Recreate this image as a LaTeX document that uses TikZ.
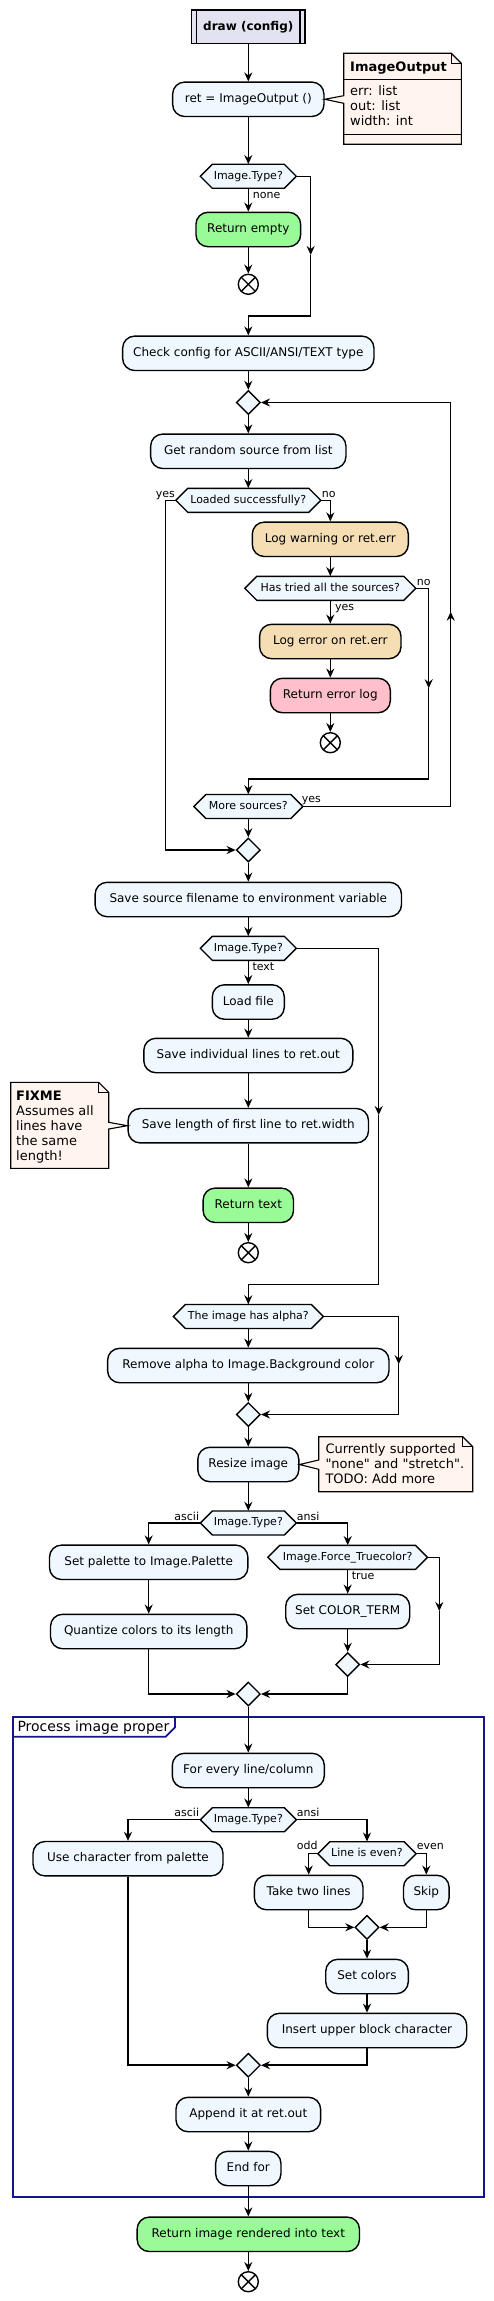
\documentclass[tikz,border=0pt]{standalone}
\usepackage{fontspec}
\setmainfont{DejaVu Sans}[Ligatures=TeXOff]
\usetikzlibrary{arrows.meta,shapes.geometric}
\definecolor{actfill}{HTML}{F0F8FF}
\definecolor{titlefill}{HTML}{E2E2F0}
\definecolor{okfill}{HTML}{98FB98}
\definecolor{warnfill}{HTML}{F5DEB3}
\definecolor{errfill}{HTML}{FFC0CB}
\definecolor{notefill}{HTML}{FFF5EE}
\definecolor{framecol}{HTML}{14148C}
\newcommand\fsA{\fontsize{12}{14}\selectfont}
\newcommand\fsB{\fontsize{11}{13}\selectfont}
\newcommand\fsN{\fontsize{13}{15}\selectfont}
\newcommand\fsP{\fontsize{14}{16}\selectfont}
\newcommand\hexnode[5]{%
  \path[hexshape] (#2-#4,#3) -- (#2-#4+12,#3-12) -- (#2+#4-12,#3-12) -- (#2+#4,#3) -- (#2+#4-12,#3+12) -- (#2-#4+12,#3+12) -- cycle;
  \node[hextext, minimum width={2*#4}] (#1) at (#2,#3) {#5};}
\tikzset{
  arr/.style={draw, line width=1.5pt, -{Stealth[length=9pt,width=8pt,inset=3pt]}},
  ln/.style={draw, line width=1.4pt},
  act/.style={draw, rounded corners=12pt, fill=actfill, line width=1.4pt, minimum height=34.4, inner xsep=3pt, inner ysep=0pt, font=\fsA, text height=9pt, text depth=2.8pt},
  hexshape/.style={draw, fill=actfill, line width=1.4pt, line join=miter},
  hextext/.style={inner sep=0, minimum height=24, font=\fsB, text height=8.2pt, text depth=2.5pt},
  merge/.style={diamond, draw, fill=actfill, line width=1.4pt, minimum width=24, minimum height=24, inner sep=0},
  endc/.style={circle, draw, fill=white, line width=1.4pt, minimum size=20, inner sep=0,
    path picture={\draw[line width=1.4pt] (path picture bounding box.north west) -- (path picture bounding box.south east) (path picture bounding box.north east) -- (path picture bounding box.south west);}},
  lbl/.style={font=\fsB, inner sep=0},
  notebody/.style={draw, fill=notefill, line width=1.1pt, line join=miter},
  noteline/.style={draw, line width=1.1pt},
  notetext/.style={font=\fsN, inner sep=0},
  frameline/.style={draw=framecol, line width=1.8pt}
}
\begin{document}
\begin{tikzpicture}[x=1pt,y=-1pt]
\fill[white] (0,0) rectangle (494,2301);
\useasboundingbox (0,0) rectangle (494,2301);

% partition frame
\draw[frameline] (13.3,1717.3) rectangle (484.3,2197.3);
\draw[frameline] (13.3,1736.7) -- (165.7,1736.7) -- (175,1727.4) -- (175,1717.3);
\node[font=\fsP, anchor=base west, inner sep=0] (ptitle) at (17.3,1731) {Process image proper};

% title
\node[draw, fill=titlefill, line width=1.4pt, minimum width=113.3, minimum height=33.7, font=\fsA\bfseries] (title) at (248.3,26.85) {draw (config)};
\draw[ln] ([xshift=5.7pt]title.north west) -- ([xshift=5.7pt]title.south west);
\draw[ln] ([xshift=-5.7pt]title.north east) -- ([xshift=-5.7pt]title.south east);

% activities
\node[act, minimum width=151.3] (ret) at (248.3,99.3) {ret = ImageOutput ()};
\node[act, fill=okfill, minimum width=104.7] (retempty) at (248.3,229.5) {Return empty};
\node[act, minimum width=251.3] (check) at (248.3,353.3) {Check config for ASCII/ANSI/TEXT type};
\node[act, minimum width=195.3] (getsrc) at (248.3,451.3) {Get random source from list};
\node[act, fill=warnfill, minimum width=156] (logwarn) at (330.3,539.3) {Log warning or ret.err};
\node[act, fill=warnfill, minimum width=141.4] (logerr) at (330.3,641.5) {Log error on ret.err};
\node[act, fill=errfill, minimum width=120] (reterr) at (330.3,695.5) {Return error log};
\node[act, minimum width=306.4] (savesrc) at (248.3,899.5) {Save source filename to environment variable};
\node[act, minimum width=72] (load) at (248.3,1002) {Load file};
\node[act, minimum width=209] (saveind) at (248.3,1055.5) {Save individual lines to ret.out};
\node[act, minimum width=240.4] (savelen) at (248.3,1125.7) {Save length of first line to ret.width};
\node[act, fill=okfill, minimum width=90.4] (rettext) at (248.3,1205.3) {Return text};
\node[act, minimum width=281.4] (remalpha) at (248.3,1365.5) {Remove alpha to Image.Background color};
\node[act, minimum width=101] (resize) at (248.3,1464.5) {Resize image};
\node[act, minimum width=198.4] (setpal) at (148.7,1562.3) {Set palette to Image.Palette};
\node[act, minimum width=196.4] (quant) at (148.7,1631.5) {Quantize colors to its length};
\node[act, minimum width=124] (setterm) at (347.7,1611.5) {Set COLOR\_TERM};
\node[act, minimum width=152] (forevery) at (248.3,1770.5) {For every line/column};
\node[act, minimum width=190] (usechar) at (128,1858.7) {Use character from palette};
\node[act, minimum width=108.6] (taketwo) at (308.7,1892.5) {Take two lines};
\node[act, minimum width=45.6] (skip) at (426.3,1892.5) {Skip};
\node[act, minimum width=82.6] (setcolors) at (367,1976.5) {Set colors};
\node[act, minimum width=199.4] (insert) at (367,2030.5) {Insert upper block character};
\node[act, minimum width=144.7] (append) at (248.3,2114.5) {Append it at ret.out};
\node[act, minimum width=65.3] (endfor) at (248.3,2168.5) {End for};
\node[act, fill=okfill, minimum width=222.3] (retimg) at (248.3,2234.3) {Return image rendered into text};

% decisions
\hexnode{d1}{248.3}{176.3}{48}{Image.Type?}
\hexnode{loaded}{248.3}{500.3}{72.5}{Loaded successfully?}
\hexnode{tried}{330.3}{588.3}{85.5}{Has tried all the sources?}
\hexnode{more}{248.3}{806.5}{54.5}{More sources?}
\hexnode{d2}{248.3}{948.3}{48}{Image.Type?}
\hexnode{alpha}{248.3}{1316.5}{75}{The image has alpha?}
\hexnode{d3}{248.3}{1523}{48}{Image.Type?}
\hexnode{force}{347.7}{1557.3}{79.8}{Image.Force\_Truecolor?}
\hexnode{d4}{248.3}{1819.7}{48}{Image.Type?}
\hexnode{even}{367}{1853.7}{49.2}{Line is even?}

% merges
\node[merge] (m1) at (248.3,402.5) {};
\node[merge] (m2) at (248.3,850) {};
\node[merge] (m3) at (248.3,1414.5) {};
\node[merge] (m4) at (347.7,1664.5) {};
\node[merge] (m5) at (248.3,1694) {};
\node[merge] (m6) at (367,1927.3) {};
\node[merge] (m7) at (248.3,2065.2) {};

% ends
\node[endc] (e1) at (248.3,284.3) {};
\node[endc] (e2) at (330.3,742.7) {};
\node[endc] (e3) at (248.3,1252.7) {};
\node[endc] (e4) at (248.3,2281.7) {};

% helper coordinates
\coordinate (b1) at (310.7,255);
\coordinate (j1) at (310.7,316);
\coordinate (j4) at (165.3,500.3);
\coordinate (b3) at (428.7,688.3);
\coordinate (j3) at (428.7,779);
\coordinate (u1) at (450.7,611.7);
\coordinate (b2) at (378.7,1115);
\coordinate (j2) at (378.7,1284.3);
\coordinate (b4) at (398.7,1364.3);
\coordinate (b5) at (439.3,1611);

% connectors
\draw[arr] (title) -- (ret);
\draw[arr] (ret) -- (d1);
\draw[arr] (d1) -- (retempty);
\draw[arr] (retempty) -- (e1);
\draw[arr] (d1.east) -| (b1);
\draw[arr] (b1) -- (j1) -| (check.north);
\draw[arr] (check) -- (m1);
\draw[arr] (m1) -- (getsrc);
\draw[arr] (getsrc) -- (loaded);
\draw[arr] (loaded.west) -- (j4) |- (m2.west);
\draw[arr] (loaded.east) -| (logwarn.north);
\draw[arr] (logwarn) -- (tried);
\draw[arr] (tried) -- (logerr);
\draw[arr] (logerr) -- (reterr);
\draw[arr] (reterr) -- (e2);
\draw[arr] (tried.east) -| (b3);
\draw[arr] (b3) -- (j3) -| (more.north);
\draw[arr] (more.east) -| (u1);
\draw[arr] (u1) |- (m1.east);
\draw[arr] (more) -- (m2);
\draw[arr] (m2) -- (savesrc);
\draw[arr] (savesrc) -- (d2);
\draw[arr] (d2) -- (load);
\draw[arr] (load) -- (saveind);
\draw[arr] (saveind) -- (savelen);
\draw[arr] (savelen) -- (rettext);
\draw[arr] (rettext) -- (e3);
\draw[arr] (d2.east) -| (b2);
\draw[arr] (b2) -- (j2) -| (alpha.north);
\draw[arr] (alpha) -- (remalpha);
\draw[arr] (remalpha) -- (m3);
\draw[arr] (alpha.east) -| (b4);
\draw[arr] (b4) |- (m3.east);
\draw[arr] (m3) -- (resize);
\draw[arr] (resize) -- (d3);
\draw[arr] (d3.west) -| (setpal.north);
\draw[arr] (d3.east) -| (force.north);
\draw[arr] (setpal) -- (quant);
\draw[arr] (force) -- (setterm);
\draw[arr] (setterm) -- (m4);
\draw[arr] (force.east) -| (b5);
\draw[arr] (b5) |- (m4.east);
\draw[arr] (quant.south) |- (m5.west);
\draw[arr] (m4.south) |- (m5.east);
\draw[arr] (m5) -- (forevery);
\draw[arr] (forevery) -- (d4);
\draw[arr] (d4.west) -| (usechar.north);
\draw[arr] (d4.east) -| (even.north);
\draw[arr] (even.west) -| (taketwo.north);
\draw[arr] (even.east) -| (skip.north);
\draw[arr] (taketwo.south) |- (m6.west);
\draw[arr] (skip.south) |- (m6.east);
\draw[arr] (m6) -- (setcolors);
\draw[arr] (setcolors) -- (insert);
\draw[arr] (insert.south) |- (m7.east);
\draw[arr] (usechar.south) |- (m7.west);
\draw[arr] (m7) -- (append);
\draw[arr] (append) -- (endfor);
\draw[arr] (endfor) -- (retimg);
\draw[arr] (retimg) -- (e4);

% branch labels
\node[lbl, anchor=base west] (l1) at (252.7,199) {none};
\node[lbl, anchor=base east] (l2) at (175,497.5) {yes};
\node[lbl, anchor=base west] (l3) at (321.7,497.5) {no};
\node[lbl, anchor=base west] (l4) at (416.7,585.7) {no};
\node[lbl, anchor=base west] (l5) at (335,610) {yes};
\node[lbl, anchor=base west] (l6) at (301.7,802.7) {yes};
\node[lbl, anchor=base west] (l7) at (252.3,970.3) {text};
\node[lbl, anchor=base east] (l8) at (199.3,1520.3) {ascii};
\node[lbl, anchor=base west] (l9) at (296.7,1520.3) {ansi};
\node[lbl, anchor=base west] (l10) at (351.7,1579) {true};
\node[lbl, anchor=base east] (l11) at (199.3,1816.3) {ascii};
\node[lbl, anchor=base west] (l12) at (296.7,1816.3) {ansi};
\node[lbl, anchor=base east] (l13) at (317.7,1849.7) {odd};
\node[lbl, anchor=base west] (l14) at (416.7,1849.7) {even};

% note: ImageOutput
\path[notebody] (343.7,53.3) -- (451.3,53.3) -- (461.3,63.3) -- (461.3,144.3) -- (343.7,144.3) -- (343.7,103.3) -- (ret.east) -- (343.7,95.7) -- cycle;
\draw[noteline] (451.3,53.3) -- (451.3,63.3) -- (461.3,63.3);
\draw[noteline] (343.7,79.7) -- (461.3,79.7);
\draw[noteline] (343.7,134.7) -- (461.3,134.7);
\node[notetext, font=\fsN\bfseries, anchor=base west] (n1h) at (350,71.7) {ImageOutput};
\node[notetext, anchor=base west] (n1b) at (350,96) {\parbox[t]{100pt}{\fsN err: list\\out: list\\width: int}};

% note: FIXME
\path[notebody] (10.7,1082.3) -- (98.7,1082.3) -- (108.7,1092.3) -- (108.7,1122.3) -- (savelen.west) -- (108.7,1129) -- (108.7,1168.3) -- (10.7,1168.3) -- cycle;
\draw[noteline] (98.7,1082.3) -- (98.7,1092.3) -- (108.7,1092.3);
\node[notetext, anchor=base west] (n2) at (16,1100.7) {\parbox[t]{90pt}{\fsN\textbf{FIXME}\\Assumes all\\lines have\\the same\\length!}};

% note: resize
\path[notebody] (318.7,1436.7) -- (462.7,1436.7) -- (472.7,1446.7) -- (472.7,1491.7) -- (318.7,1491.7) -- (318.7,1469.3) -- (resize.east) -- (318.7,1460) -- cycle;
\draw[noteline] (462.7,1436.7) -- (462.7,1446.7) -- (472.7,1446.7);
\node[notetext, anchor=base west] (n3) at (325.3,1453.3) {\parbox[t]{150pt}{\fsN Currently supported\\"none" and "stretch".\\TODO: Add more}};
\end{tikzpicture}
\end{document}
